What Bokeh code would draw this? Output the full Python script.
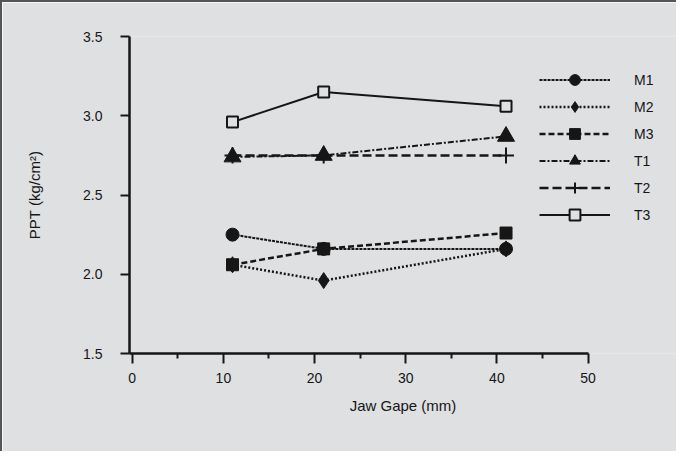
from bokeh.plotting import figure
from bokeh.models import Range1d, FixedTicker, Legend, LegendItem, NumeralTickFormatter
from bokeh.embed import file_html
from bokeh.resources import INLINE

# ---- data ----
jaw_gape = [11, 21, 41]
M1 = [2.25, 2.16, 2.16]
M2 = [2.06, 1.96, 2.16]
M3 = [2.06, 2.16, 2.26]
T1 = [2.74, 2.75, 2.87]
T2 = [2.75, 2.75, 2.75]
T3 = [2.96, 3.15, 3.06]
x_ticks = [0, 10, 20, 30, 40, 50]
x_minor = [5, 15, 25, 35, 45]
y_ticks = [1.5, 2.0, 2.5, 3.0, 3.5]

BG = "#dfe0e2"
INK = "#161616"
FONT = "Liberation Sans"

p = figure(width=676, height=451, output_backend="svg", toolbar_location=None,
           x_range=Range1d(-0.3, 59.7), y_range=Range1d(1.5, 3.5),
           min_border_left=127, min_border_top=34, min_border_right=2,
           min_border_bottom=100)
p.background_fill_color = BG
p.border_fill_color = BG
p.outline_line_color = None
p.grid.visible = False
p.styles = {"border-left": "2px solid #555555", "border-top": "2px solid #555555"}

for ax in (p.xaxis[0], p.yaxis[0]):
    ax.axis_line_width = 2.5
    ax.axis_line_color = INK
    ax.major_tick_line_color = INK
    ax.major_tick_line_width = 2
    ax.minor_tick_line_color = INK
    ax.minor_tick_line_width = 2
    ax.major_label_text_font = FONT
    ax.major_label_text_font_size = "14px"
    ax.major_label_text_color = INK
    ax.axis_label_text_font = FONT
    ax.axis_label_text_font_size = "15px"
    ax.axis_label_text_font_style = "normal"
    ax.axis_label_text_color = INK
    ax.major_tick_in = 0

p.xaxis.bounds = (-0.3, 50)
p.xaxis.ticker = FixedTicker(ticks=x_ticks, minor_ticks=x_minor)
p.xaxis.major_tick_out = 10
p.xaxis.minor_tick_out = 5
p.xaxis.minor_tick_in = 0
p.xaxis.major_label_standoff = 9
p.xaxis.axis_label = "Jaw Gape (mm)"
p.xaxis.axis_label_standoff = 11

p.yaxis.ticker = FixedTicker(ticks=y_ticks, minor_ticks=[])
p.yaxis.formatter = NumeralTickFormatter(format="0.0")
p.yaxis.major_tick_out = 9
p.yaxis.major_label_standoff = 18
p.yaxis.axis_label = "PPT (kg/cm\u00b2)"
p.yaxis.axis_label_standoff = 37

items = []

def series(name, ys, dash, width, marker, size, fill, lw=1):
    r1 = p.line(jaw_gape, ys, line_color=INK, line_width=width, line_dash=dash)
    r2 = p.scatter(jaw_gape, ys, marker=marker, size=size, fill_color=fill,
                   line_color=INK, line_width=lw)
    items.append(LegendItem(label=name, renderers=[r1, r2]))

series("M1", M1, "3 1", 2, "circle", 13, INK)
series("M2", M2, "2 2", 2.5, "diamond", 16, INK)
series("M3", M3, "6 3", 2.5, "square", 12, INK)
series("T1", T1, "6 2 2 2", 2, "triangle", 17, INK)
series("T2", T2, "9 4", 2.5, "cross", 16, INK, 2)
series("T3", T3, "solid", 2, "square", 11, BG, 2)

legend = Legend(items=items, location=(410, 125), orientation="vertical",
                glyph_width=71, glyph_height=27, spacing=0, padding=0, margin=0,
                label_standoff=24, label_text_font=FONT, label_text_font_size="14px",
                label_text_color=INK, background_fill_alpha=0, border_line_color=None)
p.add_layout(legend, "center")

open("out.html", "w").write(file_html(p, INLINE))
